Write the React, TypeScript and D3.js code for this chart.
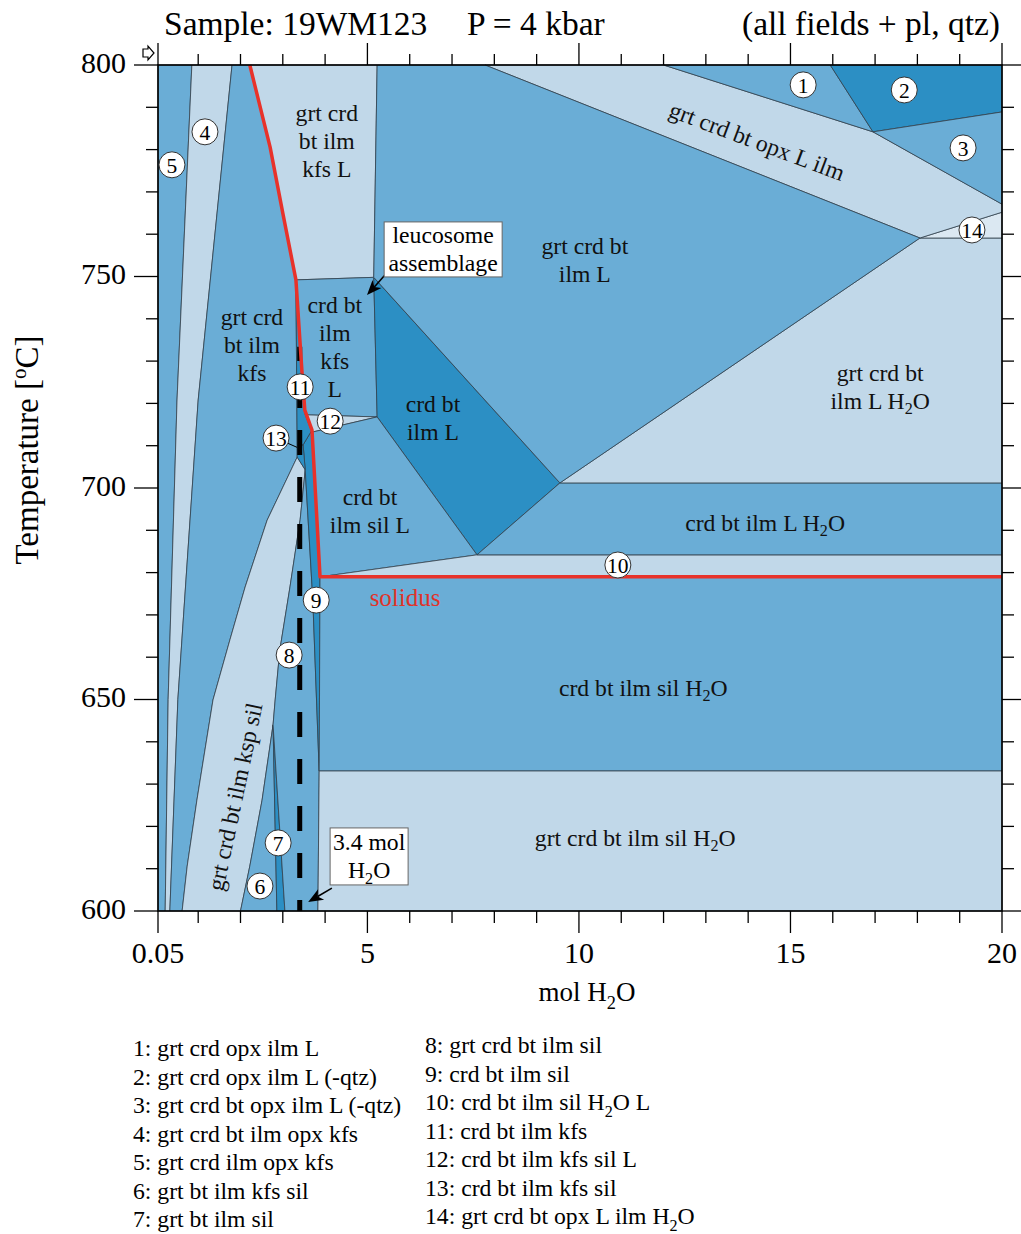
import React from "react";
import * as d3 from "d3";

// ---------- axes ----------
const X_DOMAIN = [0.05, 20];
const T_DOMAIN = [600, 800];
const X_MAJOR = [0.05, 5, 10, 15, 20];
const X_MAJOR_LABELS = ["0.05", "5", "10", "15", "20"];
const X_MINOR = [1, 2, 3, 4, 6, 7, 8, 9, 11, 12, 13, 14, 16, 17, 18, 19];
const T_MAJOR = [600, 650, 700, 750, 800];
const T_MINOR = [610, 620, 630, 640, 660, 670, 680, 690, 710, 720, 730, 740, 760, 770, 780, 790];

// ---------- fields: [mol H2O, T °C] ----------
const field5 = [[0.05, 800], [0.85, 800], [0.5, 720.8], [0.29, 650], [0.22, 600], [0.05, 600]];
const field4 = [[0.85, 800], [1.8, 800], [1.0, 720.8], [0.52, 650], [0.33, 600], [0.22, 600], [0.29, 650], [0.5, 720.8]];
const grtCrdBtIlmKfs = [[1.8, 800], [2.22, 800], [2.7, 780.6], [3.0, 765], [3.31, 749.2], [3.34, 710.2], [3.34, 707.3], [2.63, 692.4], [2.11, 676.6], [1.75, 664.1], [1.35, 649.9], [0.97, 626.2], [0.74, 610.6], [0.62, 600], [0.33, 600], [0.52, 650], [1.0, 720.8]];
const kspSilLens = [[3.34, 707.3], [2.63, 692.4], [2.11, 676.6], [1.75, 664.1], [1.35, 649.9], [0.97, 626.2], [0.74, 610.6], [0.62, 600], [2.0, 600], [2.22, 610.6], [2.51, 626.2], [2.77, 644], [2.82, 649.9], [2.93, 661.7], [3.17, 676.6], [3.41, 692.5], [3.53, 704.3]];
const field6 = [[2.77, 644], [2.51, 626.2], [2.22, 610.6], [2.0, 600], [2.86, 600]];
const field7 = [[2.77, 644], [2.86, 600], [3.05, 600]];
const field8 = [[3.53, 704.3], [3.41, 692.5], [3.17, 676.6], [2.93, 661.7], [2.82, 649.9], [2.77, 644], [3.05, 600], [3.83, 600], [3.86, 633.1], [3.71, 673.5]];
const field9 = [[3.48, 710.2], [3.69, 713.7], [3.88, 679], [3.86, 633.1], [3.71, 673.5], [3.53, 704.3]];
const field13 = [[3.34, 710.2], [3.48, 710.2], [3.53, 704.3], [3.34, 707.3]];
const field11 = [[3.31, 749.2], [3.45, 727.9], [3.52, 718.4], [3.69, 713.7], [3.48, 710.2], [3.34, 710.2]];
const grtCrdBtIlmKfsL = [[2.22, 800], [5.23, 800], [5.15, 749.8], [3.31, 749.2], [3.0, 765], [2.7, 780.6]];
const crdBtIlmKfsL = [[3.31, 749.2], [5.15, 749.8], [5.23, 716.8], [3.53, 717.3], [3.52, 718.4], [3.45, 727.9]];
const field12 = [[3.53, 717.3], [5.23, 716.8], [3.69, 713.2]];
const crdBtIlmL = [[5.15, 749.8], [9.55, 701.2], [7.59, 684.2], [5.23, 716.8]];
const crdBtIlmSilL = [[3.69, 713.2], [5.23, 716.8], [7.59, 684.2], [3.88, 679]];
const field10 = [[3.88, 679], [7.59, 684.2], [20, 684.2], [20, 679]];
const crdBtIlmLH2O = [[7.59, 684.2], [9.55, 701.2], [20, 701.2], [20, 684.2]];
const grtCrdBtIlmLH2O = [[9.55, 701.2], [18.06, 759.1], [20, 759.1], [20, 701.2]];
const field14 = [[18.06, 759.1], [20, 765.2], [20, 759.1]];
const opxBand = [[7.78, 800], [12.0, 800], [16.95, 784.2], [20, 767.1], [20, 765.2], [18.06, 759.1]];
const grtCrdBtIlmL = [[5.23, 800], [7.78, 800], [18.06, 759.1], [9.55, 701.2], [5.15, 749.8]];
const field1 = [[12.0, 800], [15.94, 800], [16.95, 784.2]];
const field2 = [[15.94, 800], [20, 800], [20, 788.9], [16.95, 784.2]];
const field3 = [[16.95, 784.2], [20, 788.9], [20, 767.1]];
const crdBtIlmSilH2O = [[3.88, 679], [20, 679], [20, 633.1], [3.86, 633.1]];
const grtCrdBtIlmSilH2O = [[3.86, 633.1], [20, 633.1], [20, 600], [3.83, 600]];

const solidus = [[2.22, 800], [2.7, 780.6], [3.0, 765], [3.31, 749.2], [3.45, 727.9], [3.52, 718.4], [3.69, 713.7], [3.88, 679], [20, 679]];
const sampleLine = [[3.4, 600], [3.4, 733.4]];

// ---------- labels ----------
const fieldLabels = [
  { lines: ["grt crd", "bt ilm", "kfs L"], at: [4.04, 782.0] },
  { lines: ["grt crd bt", "ilm L"], at: [10.14, 753.9] },
  { lines: ["grt crd", "bt ilm", "kfs"], at: [2.27, 733.8] },
  { lines: ["crd bt", "ilm", "kfs", "L"], at: [4.23, 733.3] },
  { lines: ["crd bt", "ilm L"], at: [6.55, 716.5] },
  { lines: ["grt crd bt", "ilm L H2O"], at: [17.12, 723.9] },
  { lines: ["crd bt", "ilm sil L"], at: [5.06, 694.6] },
  { lines: ["crd bt ilm L H2O"], at: [14.4, 691.7] },
  { lines: ["crd bt ilm sil H2O"], at: [11.52, 652.7] },
  { lines: ["grt crd bt ilm sil H2O"], at: [11.33, 617.3] },
];
const rotatedLabels = [
  { text: "grt crd bt ilm ksp sil", at: [1.87, 627.0], angle: -78 },
  { text: "grt crd bt opx L ilm", at: [14.21, 782.0], angle: 20.5 },
];
const numberIds = ["1", "2", "3", "4", "5", "6", "7", "8", "9", "10", "11", "12", "13", "14"];
const numberPos = [[15.3, 795.3], [17.69, 794.1], [19.08, 780.4], [1.16, 784.2], [0.38, 776.4], [2.46, 605.9], [2.89, 616.1], [3.15, 660.5], [3.79, 673.5], [10.92, 681.8], [3.41, 723.9], [4.12, 715.8], [2.84, 711.8], [19.29, 761.0]];
const leader13 = [[2.84, 711.8], [3.34, 709.6]];

const boxes = [
  { lines: ["leucosome", "assemblage"], at: [6.79, 756.4], from: [5.42, 750.4], to: [4.99, 745.6], w: 118, h: 55 },
  { lines: ["3.4 mol", "H2O"], at: [5.04, 612.9], from: [4.16, 605.4], to: [3.6, 602.1], w: 78, h: 57 },
];

const legendLeft = ["1: grt crd opx ilm L", "2: grt crd opx ilm L (-qtz)", "3: grt crd bt opx ilm L (-qtz)", "4: grt crd bt ilm opx kfs", "5: grt crd ilm opx kfs", "6: grt bt ilm kfs sil", "7: grt bt ilm sil"];
const legendRight = ["8: grt crd bt ilm sil", "9: crd bt ilm sil", "10: crd bt ilm sil H2O L", "11: crd bt ilm kfs", "12: crd bt ilm kfs sil L", "13: crd bt ilm kfs sil", "14: grt crd bt opx L ilm H2O"];

// ---------- style ----------
const LIGHT = "#c1d8e9";
const MED = "#6aadd6";
const DARK = "#2c8fc4";
const PALE = "#dbe8f2";
const EDGE = "#34414c";
const FONT = "'Liberation Serif', 'Times New Roman', serif";

const fields = [
  { p: field5, c: MED }, { p: field4, c: LIGHT }, { p: grtCrdBtIlmKfs, c: MED },
  { p: kspSilLens, c: LIGHT }, { p: field6, c: MED }, { p: field7, c: DARK },
  { p: field8, c: MED }, { p: field9, c: DARK }, { p: field13, c: DARK }, { p: field11, c: DARK },
  { p: grtCrdBtIlmKfsL, c: LIGHT }, { p: crdBtIlmKfsL, c: MED }, { p: field12, c: LIGHT },
  { p: crdBtIlmL, c: DARK }, { p: crdBtIlmSilL, c: MED }, { p: field10, c: LIGHT },
  { p: crdBtIlmLH2O, c: MED }, { p: grtCrdBtIlmLH2O, c: LIGHT }, { p: field14, c: PALE },
  { p: opxBand, c: LIGHT }, { p: grtCrdBtIlmL, c: MED }, { p: field1, c: MED },
  { p: field2, c: DARK }, { p: field3, c: MED }, { p: crdBtIlmSilH2O, c: MED },
  { p: grtCrdBtIlmSilH2O, c: LIGHT },
];

function rich(s: string, fs: number, key: string) {
  const parts = s.split("H2O");
  const out: any[] = [];
  parts.forEach((p, i) => {
    if (p) out.push(p);
    if (i < parts.length - 1) {
      out.push("H");
      out.push(<tspan key={key + "s" + i} dy={fs * 0.3} fontSize={fs * 0.68}>2</tspan>);
      out.push(<tspan key={key + "o" + i} dy={-fs * 0.3}>O</tspan>);
    }
  });
  return out;
}

function Arrow({ x1, y1, x2, y2 }: any) {
  const a = Math.atan2(y2 - y1, x2 - x1);
  const L = 15, Wd = 6;
  const bx = x2 - L * Math.cos(a), by = y2 - L * Math.sin(a);
  const p1 = [bx + Wd * Math.sin(a), by - Wd * Math.cos(a)];
  const p2 = [bx - Wd * Math.sin(a), by + Wd * Math.cos(a)];
  const nx = x2 - (L - 4) * Math.cos(a), ny = y2 - (L - 4) * Math.sin(a);
  return (
    <g>
      <line x1={x1} y1={y1} x2={nx} y2={ny} stroke="#000" strokeWidth={1.6} />
      <path d={`M${x2},${y2}L${p1[0]},${p1[1]}L${nx},${ny}L${p2[0]},${p2[1]}Z`} fill="#000" />
    </g>
  );
}

export default function App() {
  const L = 158, R = 1002, T = 65, B = 911;
  const x = d3.scaleLinear().domain(X_DOMAIN).range([L, R]);
  const y = d3.scaleLinear().domain(T_DOMAIN).range([B, T]);
  const line = d3.line<number[]>().x((d) => x(d[0])).y((d) => y(d[1]));
  const poly = (pts: number[][]) => line(pts) + "Z";
  const FS = 23.7;

  return (
    <svg width={1021} height={1234} style={{ position: "absolute", left: 0, top: 0, background: "#fff" }} fontFamily={FONT}>
      <rect x={0} y={0} width={1021} height={1234} fill="#fff" />
      <rect x={L} y={T} width={R - L} height={B - T} fill={MED} />
      {fields.map((f, i) => (
        <path key={i} d={poly(f.p)} fill={f.c} stroke={EDGE} strokeWidth={0.8} strokeLinejoin="round" />
      ))}

      {/* 3.4 mol sample line */}
      <path d={line(sampleLine)!} stroke="#000" strokeWidth={5} strokeDasharray="25 22" strokeDashoffset={14} fill="none" />
      {/* solidus */}
      <path d={line(solidus)!} stroke="#e8322a" strokeWidth={3.5} fill="none" strokeLinejoin="round" />

      {/* frame */}
      <rect x={L} y={T} width={R - L} height={B - T} fill="none" stroke="#000" strokeWidth={1.6} />

      {/* ticks */}
      {X_MAJOR.map((v, i) => (
        <g key={"xm" + i}>
          <line x1={x(v)} x2={x(v)} y1={B} y2={B + 22} stroke="#000" strokeWidth={1.3} />
          <line x1={x(v)} x2={x(v)} y1={T} y2={T - 22} stroke="#000" strokeWidth={1.3} />
          <text x={x(v)} y={B + 52} fontSize={30} textAnchor="middle">{X_MAJOR_LABELS[i]}</text>
        </g>
      ))}
      {X_MINOR.map((v, i) => (
        <g key={"xn" + i}>
          <line x1={x(v)} x2={x(v)} y1={B} y2={B + 12} stroke="#000" strokeWidth={1.3} />
          <line x1={x(v)} x2={x(v)} y1={T} y2={T - 11} stroke="#000" strokeWidth={1.3} />
        </g>
      ))}
      {T_MAJOR.map((v, i) => (
        <g key={"ym" + i}>
          <line x1={L} x2={L - 24} y1={y(v)} y2={y(v)} stroke="#000" strokeWidth={1.3} />
          <line x1={R} x2={R + 22} y1={y(v)} y2={y(v)} stroke="#000" strokeWidth={1.3} />
          <text x={126} y={y(v) - 3} fontSize={30} textAnchor="end" dominantBaseline="central">{String(v)}</text>
        </g>
      ))}
      {T_MINOR.map((v, i) => (
        <g key={"yn" + i}>
          <line x1={L} x2={L - 12} y1={y(v)} y2={y(v)} stroke="#000" strokeWidth={1.3} />
          <line x1={R} x2={R + 12} y1={y(v)} y2={y(v)} stroke="#000" strokeWidth={1.3} />
        </g>
      ))}

      {/* small corner icon */}
      <path d="M143,49 h5 v-3 l6,7 l-6,7 v-3 h-5 Z" fill="#fff" stroke="#000" strokeWidth={1.2} />

      {/* axis titles */}
      <text x={587} y={1001} fontSize={27} textAnchor="middle">{rich("mol H2O", 27, "xl")}</text>
      <text transform="translate(38,450) rotate(-90)" fontSize={33} textAnchor="middle">
        Temperature [<tspan dy={-12} fontSize={21}>o</tspan><tspan dy={12}>C]</tspan>
      </text>

      {/* title */}
      <text x={164} y={35} fontSize={33.5}>Sample: 19WM123</text>
      <text x={467} y={35} fontSize={33.5}>P = 4 kbar</text>
      <text x={1000} y={35} fontSize={33.5} textAnchor="end">(all fields + pl, qtz)</text>

      {/* field labels */}
      {fieldLabels.map((f, i) => {
        const cx = x(f.at[0]), cy = y(f.at[1]);
        const n = f.lines.length;
        return f.lines.map((ln, j) => (
          <text key={"fl" + i + "_" + j} x={cx} y={cy + (j - (n - 1) / 2) * 28} fontSize={FS} textAnchor="middle" dominantBaseline="central" fill="#111">
            {rich(ln, FS, "fl" + i + j)}
          </text>
        ));
      })}
      {rotatedLabels.map((r, i) => (
        <text key={"rl" + i} transform={`translate(${x(r.at[0])},${y(r.at[1])}) rotate(${r.angle})`} fontSize={FS} textAnchor="middle" dominantBaseline="central" fill="#111">{r.text}</text>
      ))}
      <text x={x(5.89)} y={y(674.2)} fontSize={25} fill="#e0322a" textAnchor="middle" dominantBaseline="central">solidus</text>

      {/* annotation boxes */}
      {boxes.map((b, i) => {
        const cx = x(b.at[0]), cy = y(b.at[1]);
        return (
          <g key={"bx" + i}>
            <Arrow x1={x(b.from[0])} y1={y(b.from[1])} x2={x(b.to[0])} y2={y(b.to[1])} />
            <rect x={cx - b.w / 2} y={cy - b.h / 2} width={b.w} height={b.h} fill="#fff" stroke="#666" strokeWidth={1} />
            {b.lines.map((ln, j) => (
              <text key={j} x={cx} y={cy + (j - 0.5) * 28} fontSize={FS} textAnchor="middle" dominantBaseline="central">{rich(ln, FS, "b" + i + j)}</text>
            ))}
          </g>
        );
      })}

      {/* numbered circles */}
      <path d={line(leader13)!} stroke="#000" strokeWidth={1} fill="none" />
      {numberIds.map((id, i) => (
        <g key={"n" + i}>
          <circle cx={x(numberPos[i][0])} cy={y(numberPos[i][1])} r={13} fill="#fff" stroke="#333" strokeWidth={1} />
          <text x={x(numberPos[i][0])} y={y(numberPos[i][1]) + 1} fontSize={21.5} textAnchor="middle" dominantBaseline="central">{id}</text>
        </g>
      ))}

      {/* legend */}
      {legendLeft.map((s, i) => (
        <text key={"ll" + i} x={133} y={1056 + i * 28.5} fontSize={FS}>{rich(s, FS, "ll" + i)}</text>
      ))}
      {legendRight.map((s, i) => (
        <text key={"lr" + i} x={425} y={1053 + i * 28.5} fontSize={FS}>{rich(s, FS, "lr" + i)}</text>
      ))}
    </svg>
  );
}
